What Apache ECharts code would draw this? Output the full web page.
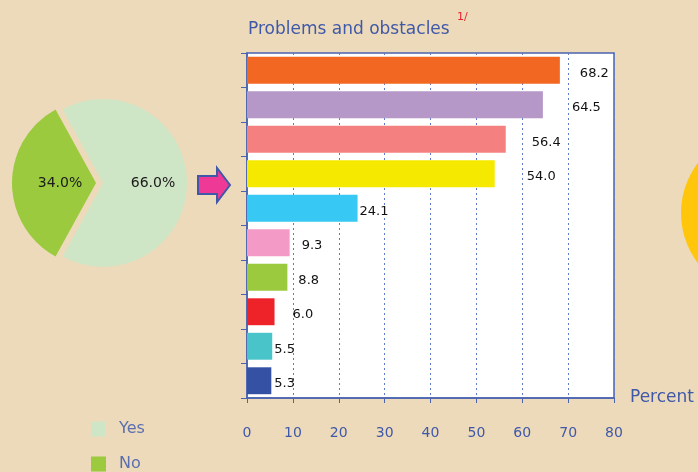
<!DOCTYPE html>
<html>
<head>
<meta charset="utf-8">
<script src="https://cdn.jsdelivr.net/npm/echarts@6/dist/echarts.min.js"></script>
<style>
  html, body { margin: 0; padding: 0; background: #EDDABA; }
  #chart { width: 698px; height: 472px; }
</style>
</head>
<body>
<div id="chart"></div>
<script>
// Share of respondents reporting problems
const pieNames = ['Yes', 'No'];
const pieValues = [66.0, 34.0];
const pieColors = ['#CFE6C6', '#9BCA3E'];

// Problems and obstacles (percent), top to bottom
const barCategories = ['1', '2', '3', '4', '5', '6', '7', '8', '9', '10'];
const barValues = [68.2, 64.5, 56.4, 54.0, 24.1, 9.3, 8.8, 6.0, 5.5, 5.3];
const barColors = ['#F26722', '#B598C7', '#F48080', '#F5E900', '#37C8F3',
                   '#F39BC6', '#9BCA3E', '#EE2229', '#49C4C9', '#3551A4'];
const xTicks = [0, 10, 20, 30, 40, 50, 60, 70, 80];

// gap between each bar end and its value label
const labelGaps = [20, 29, 26, 32, 2, 12, 11, 18, 2, 3];
// nudge of the slice labels away from the slice middle
const pieLabelShift = [[5, 0], [9, 0]];

const BLUE = '#3F58A8';
const FONT = 'DejaVu Sans';

const legendText = { color: '#5A6EB0', fontSize: 16, fontFamily: FONT, padding: [0, 0, 0, 8] };
const legendTops = [421, 456];

const chart = echarts.init(document.getElementById('chart'), null, { renderer: 'canvas' });

chart.setOption({
  backgroundColor: '#EDDABA',
  animation: false,
  textStyle: { fontFamily: FONT },
  title: [
    {
      text: 'Problems and obstacles',
      left: 243, top: 16,
      textStyle: { color: BLUE, fontSize: 17, fontWeight: 'normal', fontFamily: FONT }
    },
    {
      text: '1/',
      left: 452, top: 7,
      textStyle: { color: '#E8262A', fontSize: 11, fontWeight: 'normal', fontFamily: FONT }
    }
  ],
  // one legend entry per row, stacked below the pie
  legend: pieNames.map((n, i) => ({
    data: [{ name: n, icon: 'rect' }],
    left: 91, top: legendTops[i],
    padding: 0,
    itemWidth: 15, itemHeight: 15,
    textStyle: legendText
  })),
  grid: {
    left: 247, top: 53, width: 367, height: 345,
    show: true, backgroundColor: '#FFFFFF', borderColor: '#4A63B0', borderWidth: 1.5,
    containLabel: false
  },
  xAxis: {
    type: 'value',
    min: xTicks[0], max: xTicks[xTicks.length - 1], interval: 10,
    name: 'Percent',
    nameLocation: 'end',
    nameGap: 16,
    nameTextStyle: { color: BLUE, fontSize: 17, fontFamily: FONT, padding: [0, 0, 6, 0] },
    axisLine: { show: true, lineStyle: { color: '#4A63B0', width: 1.5 } },
    axisTick: { show: true, length: 5, lineStyle: { color: '#4A63B0' } },
    axisLabel: { color: BLUE, fontSize: 14, margin: 28, fontFamily: FONT },
    splitLine: { show: true, lineStyle: { color: '#5E7AC8', type: [2, 3], width: 1 } }
  },
  yAxis: {
    type: 'category',
    data: barCategories,
    inverse: true,
    axisLine: { show: true, lineStyle: { color: '#4A63B0', width: 1.5 } },
    axisTick: { show: true, length: 6, lineStyle: { color: '#4A63B0' } },
    axisLabel: { show: false },
    splitLine: { show: false }
  },
  series: [
    {
      type: 'pie',
      center: [103, 183],
      radius: 84,
      startAngle: 118.8,
      clockwise: true,
      selectedMode: 'single',
      selectedOffset: 7,
      silent: true,
      data: pieNames.map((n, i) => ({
        name: n, value: pieValues[i], selected: i === 1,
        itemStyle: { color: pieColors[i] },
        label: { offset: pieLabelShift[i] },
        select: { label: { offset: pieLabelShift[i] } }
      })),
      label: {
        position: 'inside',
        formatter: p => p.value.toFixed(1) + '%',
        color: '#1A1A1A', fontSize: 14, fontFamily: FONT
      },
      labelLine: { show: false }
    },
    {
      type: 'bar',
      barCategoryGap: '22%',
      data: barValues.map((v, i) => ({
        value: v,
        itemStyle: { color: barColors[i] },
        label: { distance: labelGaps[i] }
      })),
      label: {
        show: true,
        position: 'right',
        offset: [0, 3],
        formatter: p => p.value.toFixed(1),
        color: '#111111', fontSize: 13, fontFamily: FONT
      }
    }
  ],
  graphic: [
    // arrow pointing from the pie to the bar chart
    {
      type: 'polygon',
      shape: {
        points: [[198, 176], [217, 176], [217, 168], [230, 185], [217, 202], [217, 194], [198, 194]]
      },
      style: { fill: '#EE3A96', stroke: '#3F58A8', lineWidth: 2 }
    },
    // partial circle at the right edge
    {
      type: 'circle',
      shape: { cx: 764, cy: 213, r: 83 },
      style: { fill: '#FFC60B' }
    }
  ]
});
</script>
</body>
</html>
